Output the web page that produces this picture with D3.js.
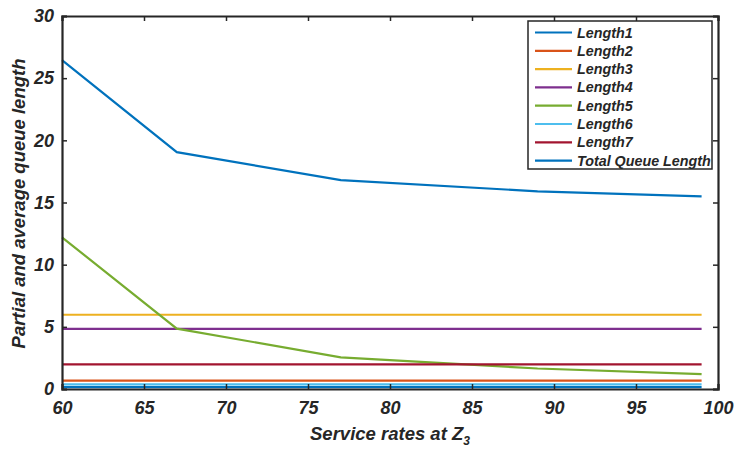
<!DOCTYPE html>
<html>
<head>
<meta charset="utf-8">
<script src="https://cdn.jsdelivr.net/npm/d3@7"></script>
<style>
  body { margin: 0; background: #fff; }
  text { font-family: "Liberation Sans", Arial, sans-serif; font-weight: bold; font-style: italic; fill: #262626; }
</style>
</head>
<body>
<svg id="myChart" width="737" height="449"></svg>
<script>
// service rates at Z3
let rates = [60, 67, 77, 89, 99];

let length1 = [26.45, 19.05, 16.8, 15.9, 15.5];
let length2 = [0.67, 0.67, 0.67, 0.67, 0.67];
let length3 = [5.97, 5.97, 5.97, 5.97, 5.97];
let length4 = [4.83, 4.83, 4.83, 4.83, 4.83];
let length5 = [12.2, 4.85, 2.55, 1.65, 1.2];
let length6 = [0.38, 0.38, 0.38, 0.38, 0.38];
let length7 = [1.98, 1.98, 1.98, 1.98, 1.98];
let totalLength = [0.15, 0.15, 0.15, 0.15, 0.15];

let seriesNames = ["Length1", "Length2", "Length3", "Length4", "Length5", "Length6", "Length7", "Total Queue Length"];
let seriesColors = ["#0072BD", "#D95319", "#EDB120", "#7E2F8E", "#77AC30", "#4DBEEE", "#A2142F", "#0072BD"];
let xTicks = [60, 65, 70, 75, 80, 85, 90, 95, 100];
let yTicks = [0, 5, 10, 15, 20, 25, 30];

class LineChart {

    constructor() {
        this.render();
    }

    render() {
        let svg = d3.select("#myChart");
        let margin = {left: 62, right: 19, top: 16, bottom: 60};
        let width = 737 - margin.left - margin.right,
            height = 449 - margin.top - margin.bottom;

        let x = d3.scaleLinear().domain([60, 100]).range([0, width]);
        let y = d3.scaleLinear().domain([0, 30]).range([height, 0]);

        let g = svg.append("g").attr("transform", "translate(" + margin.left + "," + margin.top + ")");

        let allSeries = [length1, length2, length3, length4, length5, length6, length7, totalLength];

        let line = d3.line()
            .x(function(d, i) { return x(rates[i]); })
            .y(function(d) { return y(d); });

        allSeries.forEach(function(s, i) {
            g.append("path")
                .datum(s)
                .attr("fill", "none")
                .attr("stroke", seriesColors[i])
                .attr("stroke-width", 2.2)
                .attr("d", line);
        });

        // axes (box with inward ticks)
        let axisColor = "#262626";
        let bottom = g.append("g").attr("transform", "translate(0," + height + ")")
            .call(d3.axisBottom(x).tickValues(xTicks).tickSize(-5).tickPadding(12));
        let top = g.append("g")
            .call(d3.axisTop(x).tickValues(xTicks).tickSize(-5).tickFormat(""));
        let left = g.append("g")
            .call(d3.axisLeft(y).tickValues(yTicks).tickSize(-5).tickPadding(8));
        let right = g.append("g").attr("transform", "translate(" + width + ",0)")
            .call(d3.axisRight(y).tickValues(yTicks).tickSize(-5).tickFormat(""));

        [bottom, top, left, right].forEach(function(a) {
            a.select(".domain").attr("stroke", axisColor).attr("stroke-width", 2.2);
            a.selectAll(".tick line").attr("stroke", axisColor).attr("stroke-width", 1.5);
            a.selectAll("text").style("font-size", "18px").style("font-family", null).attr("fill", axisColor);
        });

        // axis titles
        let xTitle = g.append("text")
            .attr("x", width / 2)
            .attr("y", height + 51)
            .attr("text-anchor", "middle")
            .style("font-size", "18.5px");
        xTitle.append("tspan").text("Service rates at Z");
        xTitle.append("tspan").attr("dy", 5).style("font-size", "12px").text("3");

        g.append("text")
            .attr("transform", "translate(" + (-37) + "," + (height / 2 + 1) + ") rotate(-90)")
            .attr("text-anchor", "middle")
            .style("font-size", "18.5px")
            .text("Partial and average queue length");

        // legend
        let legend = svg.append("g").attr("transform", "translate(528,21)");
        legend.append("rect")
            .attr("width", 184).attr("height", 148)
            .attr("fill", "#fff")
            .attr("stroke", axisColor)
            .attr("stroke-width", 1.5);

        let item = legend.selectAll(".item")
            .data(seriesNames)
            .enter().append("g")
            .attr("class", "item")
            .attr("transform", function(d, i) { return "translate(0," + (11.5 + i * 18.3) + ")"; });

        item.append("line")
            .attr("x1", 7).attr("x2", 44)
            .attr("stroke", function(d, i) { return seriesColors[i]; })
            .attr("stroke-width", 2.2);

        item.append("text")
            .attr("x", 49)
            .attr("dy", "0.35em")
            .style("font-size", "14.3px")
            .text(function(d) { return d; });
    }

}

new LineChart();
</script>
</body>
</html>
